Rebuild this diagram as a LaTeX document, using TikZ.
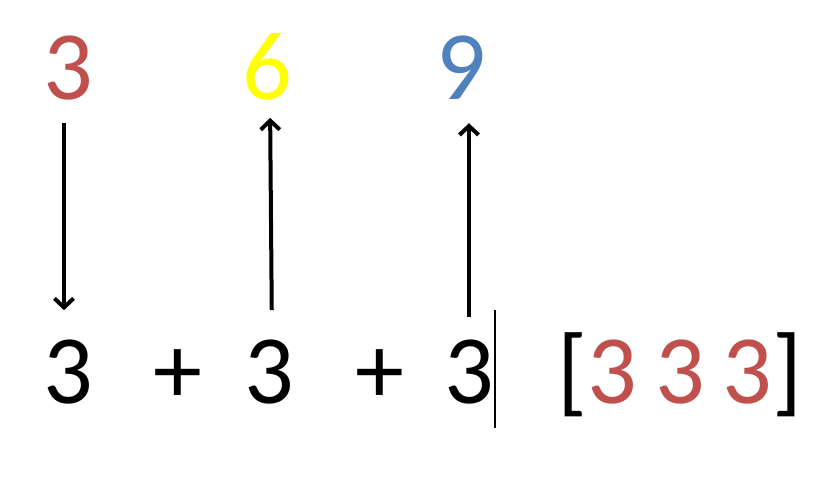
\documentclass[tikz,border=0pt]{standalone}
\usepackage{fontspec}
\usepackage{xcolor}
\usepackage{tikz}
\usetikzlibrary{arrows.meta}
\setmainfont{Carlito}
\definecolor{rouge}{HTML}{C0504D}
\definecolor{jaune}{HTML}{FFFF00}
\definecolor{bleu}{HTML}{4F81BD}

\tikzset{
    chiffre/.style={inner sep=0pt, anchor=base, font=\fontsize{98}{100}\selectfont},
    fleche/.style={line width=4pt, -{Straight Barb[length=9pt,width=19pt]}}
}

\begin{document}
\begin{tikzpicture}[x=1pt,y=1pt]
    % Cadre
    \useasboundingbox[fill=white] (0,0) rectangle (839,480);

    % Nombres du haut
    \node[chiffre, text=rouge] (haut3) at (68,380) {3};
    \node[chiffre, text=jaune] (haut6) at (267,380) {6};
    \node[chiffre, text=bleu] (haut9) at (461,380) {9};

    % Somme du bas
    \node[chiffre] (bas1) at (68,77) {3};
    \node[chiffre] (plus1) at (178,77) {+};
    \node[chiffre] (bas2) at (269,77) {3};
    \node[chiffre] (plus2) at (380,77) {+};
    \node[chiffre] (bas3) at (469,77) {3};

    % Curseur
    \draw[line width=2pt] ([xshift=1pt,yshift=29pt]bas3.north east) -- ([xshift=1pt,yshift=-24pt]bas3.south east);

    % Liste
    \node[chiffre] (liste) at (680,77) {[\textcolor{rouge}{3\hspace{18pt}3\hspace{18pt}3}]};

    % Fleches
    \draw[fleche, shorten <=22pt, shorten >=29pt] ([xshift=-4pt]haut3.south) -- ([xshift=-4pt]bas1.north);
    \draw[fleche, shorten <=29pt, shorten >=17pt] ([xshift=3pt]bas2.north) -- ([xshift=3pt]haut6.south);
    \draw[fleche, shorten <=22pt, shorten >=23pt] (bas3.north) -- (bas3.north |- haut9.south);
\end{tikzpicture}
\end{document}
